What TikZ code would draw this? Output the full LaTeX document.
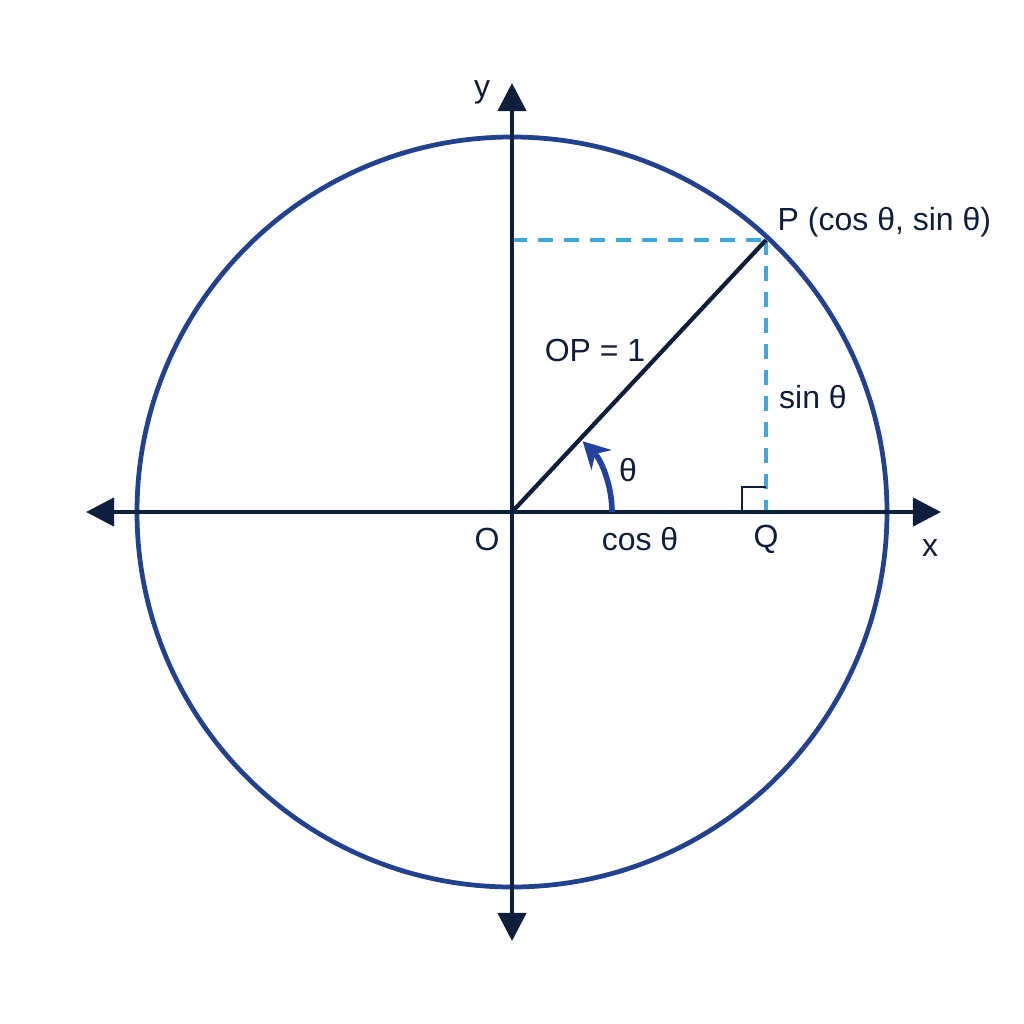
\documentclass[tikz,border=0pt]{standalone}
\usepackage{fontspec}
\setmainfont{Liberation Sans}
\usetikzlibrary{arrows.meta}
\definecolor{axisnavy}{HTML}{0F1E3A}
\definecolor{circblue}{HTML}{22418F}
\definecolor{dashblue}{HTML}{3AA8E2}
\definecolor{arcblue}{HTML}{2342A0}
\tikzset{
  axisline/.style={draw=axisnavy, line width=1.2pt, -{Triangle[length=8pt,width=8pt]}},
  guide/.style={draw=dashblue, line width=1.15pt, dash pattern=on 4.2pt off 3.2pt},
  lbl/.style={font=\fontsize{9.1}{10}\selectfont, text=axisnavy, inner sep=0pt}
}
\begin{document}
\begin{tikzpicture}[x=0.01cm,y=-0.01cm]
\useasboundingbox (0,0) rectangle (1024,1024);
\coordinate (O) at (512,512);
\coordinate (P) at (766,240);
\coordinate (Q) at (766,512);
\coordinate (Yp) at (512,240);
\coordinate (xl) at (86,512);
\coordinate (xr) at (941,512);
\coordinate (yt) at (512,83);
\coordinate (yb) at (512,941);
% circle
\draw[circblue, line width=1.35pt] (O) circle[radius=375];
% dashed guides
\draw[guide] (Yp) -- (P);
\draw[guide] (P) -- (Q);
% axes
\draw[axisline] (O) -- (xr);
\draw[axisline] (O) -- (xl);
\draw[axisline] (O) -- (yt);
\draw[axisline] (O) -- (yb);
% radius
\draw[axisnavy, line width=1.2pt] (O) -- (P);
% right angle marker
\draw[axisnavy, line width=0.7pt] (742,512) -- (742,487) -- (Q |- 0,487);
% angle arc
\draw[arcblue, line width=1.6pt, -{Stealth[length=7.5pt,width=8pt]}] (612,512) arc[start angle=0, end angle=-45, radius=100];
% labels
\node[lbl] (ylab) at (482,92) {y};
\node[lbl] (xlab) at (930,548) {x};
\node[lbl, anchor=west] (plab) at (777,222) {P (cos θ, sin θ)};
\node[lbl] (oplab) at (595,350) {OP = 1};
\node[lbl] (sinlab) at (813,397) {sin θ};
\node[lbl] (thlab) at (628,470) {θ};
\node[lbl] (olab) at (487,539) {O};
\node[lbl] (coslab) at (640,539) {cos θ};
\node[lbl] (qlab) at (766,539) {Q};
\end{tikzpicture}
\end{document}
